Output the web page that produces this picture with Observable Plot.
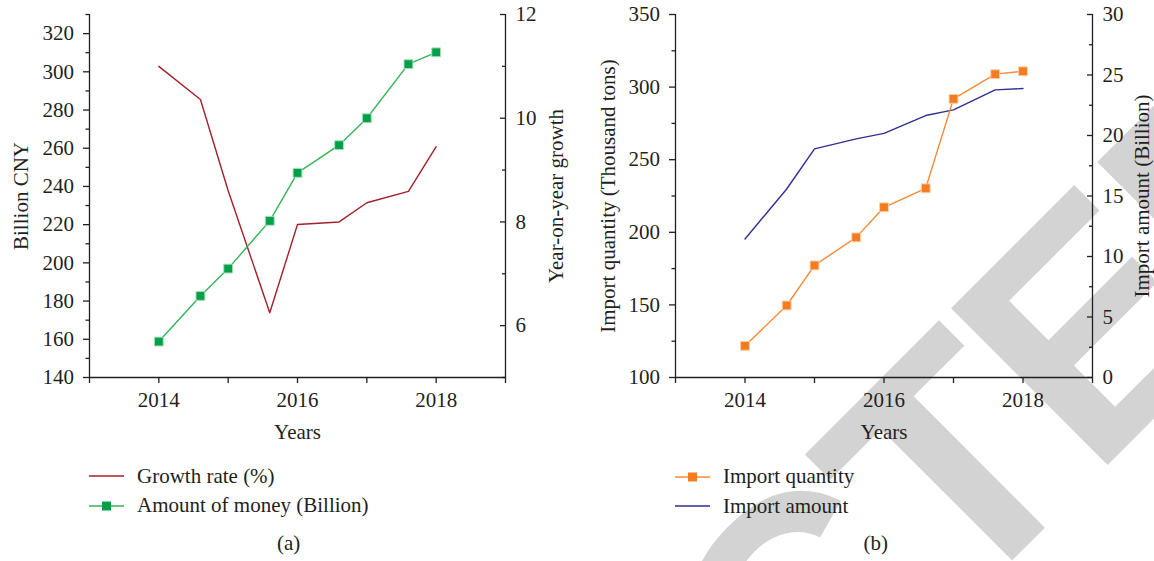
<!DOCTYPE html>
<html>
<head>
<meta charset="utf-8">
<script src="https://cdn.jsdelivr.net/npm/d3@7"></script>
<script src="https://cdn.jsdelivr.net/npm/@observablehq/plot@0.6"></script>
<style>
  html, body { margin: 0; padding: 0; background: #fff; }
  #root { position: relative; width: 1154px; height: 561px; overflow: hidden; background: #fff;
          font-family: "Liberation Serif", serif; color: #231f20; }
  .layer { position: absolute; left: 0; top: 0; }
  .legend { position: absolute; font-size: 21px; line-height: 29.5px; white-space: nowrap; }
  .legend .row { display: flex; align-items: center; height: 29.5px; }
  .legend svg { display: block; margin-right: 13px; }
  .caption { position: absolute; font-size: 21px; line-height: 21px; transform: translateX(-50%); }
</style>
</head>
<body>
<div id="root"></div>
<script>
// ---------------- data ----------------
const years = [2014, 2014.6, 2015, 2015.6, 2016, 2016.6, 2017, 2017.6, 2018];
// panel (a)
const growthRate = [11.0, 10.36, 8.6, 6.25, 7.95, 8.0, 8.37, 8.59, 9.45];          // right axis, %
const amountMoney = [158.8, 182.7, 197.0, 222.0, 247.1, 261.6, 275.7, 304.0, 310.2]; // left axis, billion CNY
// panel (b)
const importQuantity = [121.8, 149.6, 177.2, 196.5, 217.2, 230.3, 291.9, 308.9, 310.9]; // left axis, thousand tons
const importAmount = [11.45, 15.58, 18.89, 19.72, 20.18, 21.65, 22.12, 23.77, 23.88];   // right axis, billion

const xTicks = [2013, 2014, 2015, 2016, 2017, 2018, 2019];
const xTickLabels = [2014, 2016, 2018];
const aLeftTicks = [140, 160, 180, 200, 220, 240, 260, 280, 300, 320];
const aLeftMinor = [150, 170, 190, 210, 230, 250, 270, 290, 310, 330];
const aRightTicks = [6, 8, 10, 12];
const aRightMinor = [5, 7, 9, 11];
const bLeftTicks = [100, 150, 200, 250, 300, 350];
const bLeftMinor = [125, 175, 225, 275, 325];
const bRightTicks = [0, 5, 10, 15, 20, 25, 30];
const bRightMinor = [2.5, 7.5, 12.5, 17.5, 22.5, 27.5];

const tableA = years.map((year, i) => ({year, growth: growthRate[i], money: amountMoney[i]}));
const tableB = years.map((year, i) => ({year, qty: importQuantity[i], amt: importAmount[i]}));

// ---------------- layout / style ----------------
const W = 1154, H = 450, TOP = 14, BOTTOM = 377;
const INK = "#231f20";
const FONT = "Liberation Serif";
const FS = 21;
const root = document.getElementById("root");

// watermark (behind the charts)
const wm = document.createElementNS("http://www.w3.org/2000/svg", "svg");
wm.setAttribute("width", 1154); wm.setAttribute("height", 561);
wm.setAttribute("class", "layer");
wm.innerHTML = `<text transform="rotate(-45)" x="-1097" y="1112" font-family="Liberation Sans" font-weight="bold" font-size="322" letter-spacing="-8" fill="#d3d3d3">RETRACTED</text>`;
root.appendChild(wm);
try {
  const wt = wm.querySelector("text");
  const s = wt.getStartPositionOfChar(6).x;   // second "T"
  const shift = 342.6 - (s + 0.3055 * 322);
  if (isFinite(shift)) wt.setAttribute("x", -1097 + shift);
} catch (e) {}

const baseStyle = {background: "transparent", fontFamily: FONT, fontSize: FS + "px", color: INK, overflow: "visible"};

function leftLayer({L, R, yDomain, majors, minors, data, yKey, lineColor, dotColor, dotStroke, yLabel, yLabelDx}) {
  return Plot.plot({
    width: W, height: H,
    marginLeft: L, marginRight: W - R, marginTop: TOP, marginBottom: H - BOTTOM,
    style: baseStyle,
    x: {domain: [2013, 2019]},
    y: {domain: yDomain},
    marks: [
      Plot.axisX({ticks: xTicks, tickSize: 6, tickPadding: 9, strokeWidth: 1.3,
                  tickFormat: d => xTickLabels.includes(d) ? String(d) : "", label: null, fontSize: FS}),
      Plot.axisY({anchor: "left", ticks: majors, tickSize: 6, tickPadding: 9.5, strokeWidth: 1.3,
                  tickFormat: d => String(d), label: null, fontSize: FS}),
      Plot.axisY({anchor: "left", ticks: minors, tickSize: 3.5, strokeWidth: 1.3,
                  tickFormat: () => "", label: null}),
      Plot.ruleX([2013], {stroke: INK, strokeWidth: 1.3}),
      Plot.ruleY([yDomain[0]], {stroke: INK, strokeWidth: 1.3}),
      Plot.line(data, {x: "year", y: yKey, stroke: lineColor, strokeWidth: 1.4}),
      Plot.dot(data, {x: "year", y: yKey, symbol: "square", r: 5, fill: dotColor, stroke: dotStroke, strokeWidth: 1}),
      Plot.text(["Years"], {text: d => d, frameAnchor: "bottom", dy: 55, fontSize: FS, fill: INK,
                            textAnchor: "middle", lineAnchor: "middle"}),
      Plot.text([yLabel], {text: d => d, frameAnchor: "left", dx: yLabelDx, rotate: -90, fontSize: FS, fill: INK,
                           textAnchor: "middle", lineAnchor: "middle"})
    ]
  });
}

function rightLayer({L, R, yDomain, majors, minors, data, yKey, lineColor, yLabel, yLabelDx}) {
  const fw = R - L;
  return Plot.plot({
    width: W, height: H,
    marginLeft: L, marginRight: W - R, marginTop: TOP, marginBottom: H - BOTTOM,
    style: baseStyle,
    x: {domain: [2013, 2019], axis: null},
    y: {domain: yDomain},
    marks: [
      Plot.axisY({anchor: "right", ticks: majors, tickSize: 0, tickPadding: 10,
                  tickFormat: d => String(d), label: null, fontSize: FS}),
      Plot.tickY(majors, {y: d => d, insetLeft: fw - 5, stroke: INK, strokeWidth: 1.3}),
      Plot.tickY(minors, {y: d => d, insetLeft: fw - 3, stroke: INK, strokeWidth: 1.3}),
      Plot.ruleX([2019], {stroke: INK, strokeWidth: 1.3}),
      Plot.line(data, {x: "year", y: yKey, stroke: lineColor, strokeWidth: 1.4}),
      Plot.text([yLabel], {text: d => d, frameAnchor: "right", dx: yLabelDx, rotate: -90, fontSize: FS, fill: INK,
                           textAnchor: "middle", lineAnchor: "middle"})
    ]
  });
}

const layers = [
  rightLayer({L: 89, R: 505, yDomain: [5, 12], majors: aRightTicks, minors: aRightMinor,
              data: tableA, yKey: "growth", lineColor: "#a3202a", yLabel: "Year-on-year growth", yLabelDx: 51}),
  rightLayer({L: 675, R: 1092, yDomain: [0, 30], majors: bRightTicks, minors: bRightMinor,
              data: tableB, yKey: "amt", lineColor: "#2e3192", yLabel: "Import amount (Billion)", yLabelDx: 50}),
  leftLayer({L: 89, R: 505, yDomain: [140, 330], majors: aLeftTicks, minors: aLeftMinor,
             data: tableA, yKey: "money", lineColor: "#35b459", dotColor: "#00a048", dotStroke: "#a8e0b8",
             yLabel: "Billion CNY", yLabelDx: -68.5}),
  leftLayer({L: 675, R: 1092, yDomain: [100, 350], majors: bLeftTicks, minors: bLeftMinor,
             data: tableB, yKey: "qty", lineColor: "#f58a35", dotColor: "#f47c20", dotStroke: "#fbcfa8",
             yLabel: "Import quantity (Thousand tons)", yLabelDx: -67.5})
];
for (const l of layers) { l.classList.add("layer"); root.appendChild(l); }

// ---------------- legends & captions ----------------
const legendA = [
  {label: "Growth rate (%)", color: "#a3202a", marker: false},
  {label: "Amount of money (Billion)", color: "#35b459", markerColor: "#00a048", marker: true}
];
const legendB = [
  {label: "Import quantity", color: "#f58a35", markerColor: "#f47c20", marker: true},
  {label: "Import amount", color: "#2e3192", marker: false}
];
function addLegend(items, left, top) {
  const div = document.createElement("div");
  div.className = "legend";
  div.style.left = left + "px";
  div.style.top = top + "px";
  for (const it of items) {
    const row = document.createElement("div");
    row.className = "row";
    row.innerHTML = `<svg width="35" height="20"><line x1="0" x2="35" y1="10" y2="10" stroke="${it.color}" stroke-width="1.6"/>` +
      (it.marker ? `<rect x="13" y="5.5" width="9" height="9" fill="${it.markerColor}"/>` : "") +
      `</svg><span>${it.label}</span>`;
    div.appendChild(row);
  }
  root.appendChild(div);
}
addLegend(legendA, 89, 461.5);
addLegend(legendB, 675, 462);

function addCaption(text, cx, top) {
  const d = document.createElement("div");
  d.className = "caption";
  d.style.left = cx + "px";
  d.style.top = top + "px";
  d.textContent = text;
  root.appendChild(d);
}
addCaption("(a)", 288.6, 533);
addCaption("(b)", 875.8, 533);
</script>
</body>
</html>
